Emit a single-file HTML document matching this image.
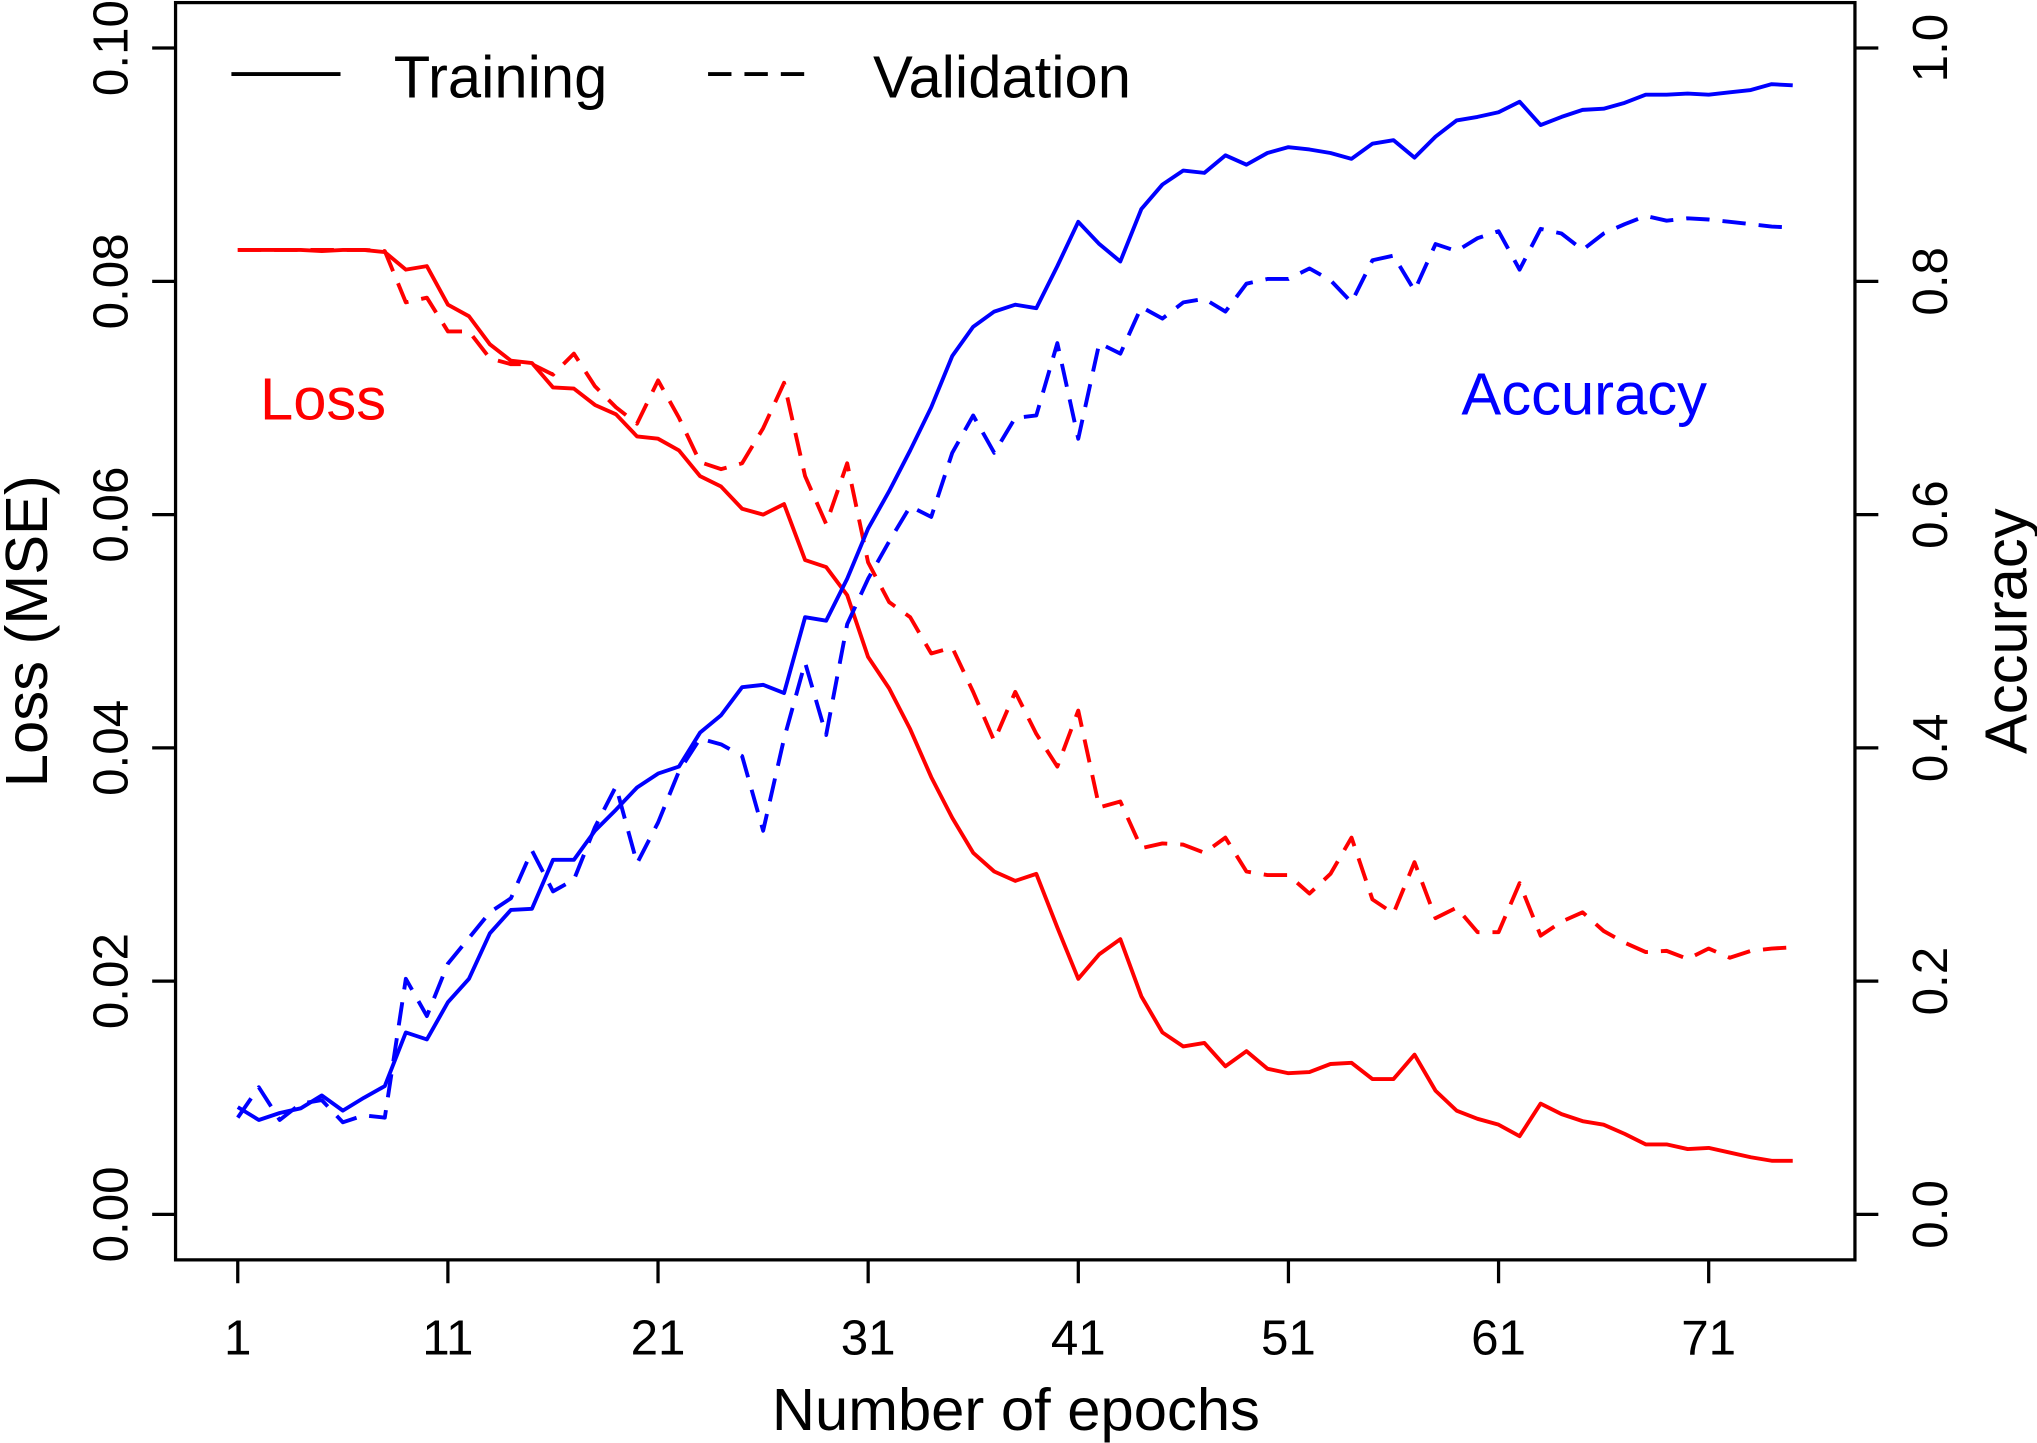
<!DOCTYPE html>
<html><head><meta charset="utf-8"><style>
html,body{margin:0;padding:0;background:#fff;}
svg{display:block;font-family:"Liberation Sans",Arial,sans-serif;}
</style></head><body>
<svg id="chart" width="2037" height="1443" viewBox="0 0 1568 1111" xmlns="http://www.w3.org/2000/svg">
<g id="axes"></g>
<g id="series"></g>
</svg>
<script>
const trainLoss=[0.0827,0.0827,0.0827,0.0827,0.0826,0.0827,0.0827,0.0825,0.081,0.0813,0.078,0.077,0.0746,0.0732,0.073,0.0709,0.0708,0.0694,0.0686,0.0667,0.0665,0.0655,0.0633,0.0624,0.0605,0.060,0.0609,0.0561,0.0555,0.0531,0.0478,0.0451,0.0416,0.0375,0.034,0.031,0.0294,0.0286,0.0292,0.0246,0.0202,0.0223,0.0236,0.0187,0.0156,0.0144,0.0147,0.0127,0.014,0.0125,0.0121,0.0122,0.0129,0.013,0.0116,0.0116,0.0137,0.0106,0.0089,0.0082,0.0077,0.0067,0.0095,0.0086,0.008,0.0077,0.0069,0.006,0.006,0.0056,0.0057,0.0053,0.0049,0.0046,0.0046];
const valLoss=[0.0827,0.0827,0.0827,0.0827,0.0827,0.0827,0.0827,0.0826,0.0782,0.0786,0.0757,0.0757,0.0734,0.0729,0.0729,0.072,0.0738,0.071,0.0692,0.0678,0.0715,0.0683,0.0645,0.0639,0.0644,0.0674,0.0713,0.0633,0.0592,0.0644,0.0559,0.0525,0.0512,0.0481,0.0486,0.0448,0.0406,0.0448,0.0412,0.0384,0.0432,0.0349,0.0354,0.0314,0.0318,0.0317,0.031,0.0323,0.0294,0.0291,0.0291,0.0275,0.0292,0.0323,0.027,0.0258,0.0302,0.0254,0.0263,0.0242,0.0242,0.0284,0.0239,0.0251,0.0259,0.0243,0.0233,0.0225,0.0226,0.0219,0.0228,0.022,0.0226,0.0228,0.0229];
const trainAcc=[0.092,0.081,0.087,0.091,0.102,0.089,0.100,0.110,0.156,0.150,0.182,0.202,0.241,0.261,0.262,0.304,0.304,0.329,0.347,0.366,0.378,0.384,0.413,0.428,0.452,0.454,0.447,0.512,0.509,0.545,0.588,0.620,0.655,0.692,0.736,0.761,0.774,0.780,0.777,0.813,0.851,0.832,0.817,0.862,0.883,0.895,0.893,0.908,0.900,0.910,0.915,0.913,0.910,0.905,0.918,0.921,0.906,0.924,0.938,0.941,0.945,0.954,0.934,0.941,0.947,0.948,0.953,0.960,0.960,0.961,0.960,0.962,0.964,0.969,0.968];
const valAcc=[0.083,0.109,0.081,0.095,0.098,0.079,0.085,0.083,0.202,0.170,0.215,0.237,0.259,0.271,0.312,0.277,0.287,0.332,0.367,0.301,0.336,0.380,0.408,0.403,0.393,0.329,0.408,0.473,0.411,0.506,0.545,0.577,0.607,0.598,0.653,0.685,0.653,0.683,0.685,0.747,0.665,0.747,0.738,0.778,0.768,0.782,0.785,0.774,0.798,0.802,0.802,0.811,0.801,0.782,0.818,0.822,0.792,0.832,0.826,0.837,0.843,0.810,0.845,0.841,0.827,0.841,0.849,0.856,0.852,0.854,0.853,0.851,0.849,0.847,0.846];
const xTicks=[1,11,21,31,41,51,61,71];
const lossTicks=["0.00","0.02","0.04","0.06","0.08","0.10"];
const accTicks=["0.0","0.2","0.4","0.6","0.8","1.0"];

const NS="http://www.w3.org/2000/svg";
const X0=135,X1=1428,Y0=2,Y1=970;
const nEp=trainLoss.length;
const span=nEp-1, pad=span*0.04;
function xs(e){return X0+(e-(1-pad))/(span+2*pad)*(X1-X0);}
function yl(v){return 935-v*8980;}
function ya(v){return 935-v*898;}
function mk(tag,attrs,parent){const el=document.createElementNS(NS,tag);for(const k in attrs)el.setAttribute(k,attrs[k]);parent.appendChild(el);return el;}
const ax=document.getElementById('axes'), se=document.getElementById('series');

let box=mk('rect',{x:X0,y:Y0,width:X1-X0,height:Y1-Y0,fill:'none',stroke:'#000','stroke-width':2.5},ax);



xTicks.forEach(t=>{
  const x=xs(t);
  let l=mk('line',{x1:x,x2:x,y1:Y1,y2:Y1+18,stroke:'#000','stroke-width':2.5},ax);
  
  
  let tx=mk('text',{x:x,y:1043,'font-size':38,'text-anchor':'middle'},ax);
  tx.textContent=t;
  
  
});
lossTicks.forEach(t=>{
  const y=yl(parseFloat(t));
  let l=mk('line',{x1:X0-18,x2:X0,y1:y,y2:y,stroke:'#000','stroke-width':2.5},ax);
  
  
  let tx=mk('text',{x:0,y:0,'font-size':38,'text-anchor':'middle',transform:`translate(98,${y}) rotate(-90)`},ax);
  tx.textContent=t;
  
  
});
accTicks.forEach(t=>{
  const y=ya(parseFloat(t));
  let l=mk('line',{x1:X1,x2:X1+18,y1:y,y2:y,stroke:'#000','stroke-width':2.5},ax);
  
  
  let tx=mk('text',{x:0,y:0,'font-size':38,'text-anchor':'middle',transform:`translate(1499,${y}) rotate(-90)`},ax);
  tx.textContent=t;
  
  
});
function label(txt,attrs,name){
  let t=mk('text',attrs,ax);
  t.textContent=txt;
  
  
  return t;
}
label('Number of epochs',{x:782,y:1101,'font-size':46,'text-anchor':'middle'},'x-axis-title');
label('Loss (MSE)',{x:0,y:0,'font-size':46,'text-anchor':'middle',transform:'translate(36,486) rotate(-90)'},'left-y-axis-title');
label('Accuracy',{x:0,y:0,'font-size':46,'text-anchor':'middle',transform:'translate(1560,486) rotate(-90)'},'right-y-axis-title');
label('Loss',{x:200,y:323,'font-size':46,fill:'#ff0000'},'loss-annotation');
label('Accuracy',{x:1125,y:319,'font-size':46,fill:'#0000ff'},'accuracy-annotation');

let lg1=mk('line',{x1:178,x2:262,y1:57,y2:57,stroke:'#000','stroke-width':3},ax);


label('Training',{x:303,y:75,'font-size':46},'legend-training-label');
let lg2=mk('line',{x1:545,x2:625,y1:57,y2:57,stroke:'#000','stroke-width':3,'stroke-dasharray':'18 10'},ax);


label('Validation',{x:672,y:75,'font-size':46},'legend-validation-label');

function series(arr,yf,color,dash,name){
  const pts=arr.map((v,i)=>xs(i+1).toFixed(1)+','+yf(v).toFixed(1)).join(' ');
  const a={points:pts,fill:'none',stroke:color,'stroke-width':3,'stroke-linejoin':'round'};
  if(dash)a['stroke-dasharray']='18 10';
  let p=mk('polyline',a,se);
  
  
}
series(valLoss,yl,'#ff0000',true,'validation-loss-line');
series(trainLoss,yl,'#ff0000',false,'training-loss-line');
series(valAcc,ya,'#0000ff',true,'validation-accuracy-line');
series(trainAcc,ya,'#0000ff',false,'training-accuracy-line');
</script>
</body></html>
